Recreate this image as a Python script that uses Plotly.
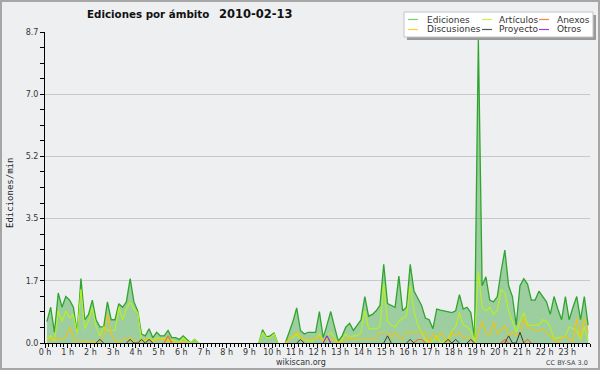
import plotly.graph_objects as go

# ---- data: one value per 10-minute slot (6 per hour), edits per minute ----
hour_labels = [f"{h} h" for h in range(24)]

ediciones = [
    0.6, 1.0, 0.3, 1.4, 1.0, 1.3,      # 0h
    1.2, 1.0, 0.3, 1.8, 0.65, 0.8,     # 1h
    1.2, 0.65, 0.45, 0.45, 1.15, 0.65, # 2h
    0.65, 1.1, 1.0, 1.15, 1.8, 1.15,   # 3h
    0.9, 0.25, 0.2, 0.4, 0.15, 0.3,    # 4h
    0.2, 0.2, 0.35, 0.15, 0.15, 0.1,   # 5h
    0.2, 0.1, 0.0, 0.1, 0.0, 0.0,      # 6h
    0, 0, 0, 0, 0, 0,                  # 7h
    0, 0, 0, 0, 0, 0,                  # 8h
    0, 0, 0.0, 0.37, 0.17, 0.2,        # 9h
    0.28, 0.0, 0.0, 0.0, 0.3, 0.6,     # 10h
    0.98, 0.35, 0.25, 0.3, 0.3, 0.3,   # 11h
    0.88, 0.15, 0.5, 0.88, 0.45, 0.05, # 12h
    0.2, 0.45, 0.55, 0.35, 0.5, 0.65,  # 13h
    1.3, 0.75, 0.8, 0.9, 1.05, 2.2,    # 14h
    1.1, 1.05, 1.0, 1.87, 0.9, 1.0,    # 15h
    2.2, 1.45, 1.25, 1.05, 0.7, 0.65,  # 16h
    0.4, 0.95, 0.92, 0.9, 0.88, 0.85,  # 17h
    0.9, 1.35, 0.95, 1.0, 0.85, 0.15,  # 18h
    8.5, 1.6, 1.85, 1.2, 1.15, 1.3,    # 19h
    2.0, 2.6, 1.6, 1.3, 0.5, 1.6,      # 20h
    1.8, 1.65, 1.2, 1.2, 1.45, 1.3,    # 21h
    1.15, 0.8, 1.3, 0.95, 0.65, 1.3,   # 22h
    0.65, 1.0, 1.3, 0.65, 1.3, 0.5,    # 23h
]

articulos = [
    0.1, 0.2, 0.05, 0.9, 0.6, 0.9,
    0.7, 0.8, 0.25, 1.5, 0.4, 0.6,
    1.0, 0.45, 0.2, 0.45, 0.35, 0.35,
    0.35, 1.0, 0.65, 0.95, 1.15, 0.95,
    0.85, 0.1, 0.05, 0.15, 0.05, 0.15,
    0.1, 0.15, 0.05, 0.1, 0.05, 0.0,
    0.15, 0.05, 0.0, 0.1, 0.0, 0.0,
    0, 0, 0, 0, 0, 0,
    0, 0, 0, 0, 0, 0,
    0, 0, 0, 0.3, 0.15, 0.15,
    0.25, 0, 0, 0, 0.1, 0.15,
    0.25, 0.1, 0.1, 0.05, 0.05, 0.1,
    0.25, 0.05, 0.2, 0.3, 0.15, 0.0,
    0.1, 0.25, 0.15, 0.2, 0.2, 0.3,
    0.9, 0.4, 0.4, 0.4, 0.45, 1.65,
    0.6, 0.5, 0.45, 0.6, 0.7, 0.75,
    1.6, 0.9, 0.5, 0.3, 0.1, 0.0,
    0.05, 0.2, 0.0, 0.05, 0.1, 0.35,
    0.45, 0.85, 0.5, 0.45, 0.35, 0.05,
    2.0, 1.0, 0.9, 1.0, 0.8, 0.9,
    1.5, 1.4, 0.9, 0.6, 0.3, 0.6,
    0.85, 0.5, 0.5, 0.5, 0.5, 0.65,
    0.6, 0.45, 0.1, 0.15, 0.15, 0.2,
    0.45, 0.4, 0.35, 0.1, 0.45, 0.05,
]

discusiones = [
    0.05, 0.1, 0.15, 0.1, 0.1, 0.15,
    0.45, 0.15, 0.05, 0.05, 0.05, 0.0,
    0.05, 0.0, 0.05, 0.2, 0.8, 0.25,
    0.05, 0.0, 0.1, 0.1, 0.15, 0.05,
    0.0, 0.05, 0.1, 0.1, 0.05, 0.1,
    0.1, 0.1, 0.05, 0.05, 0.0, 0.0,
    0.05, 0.0, 0, 0, 0, 0,
    0, 0, 0, 0, 0, 0,
    0, 0, 0, 0, 0, 0,
    0, 0, 0, 0, 0, 0,
    0, 0, 0, 0, 0.1, 0.2,
    0.3, 0.2, 0.1, 0.1, 0.1, 0.1,
    0.2, 0.05, 0.1, 0.15, 0.05, 0.0,
    0.05, 0.1, 0.15, 0.1, 0.1, 0.1,
    0.1, 0.1, 0.1, 0.15, 0.3, 0.3,
    0.3, 0.15, 0.3, 0.15, 0.1, 0.3,
    0.3, 0.3, 0.3, 0.3, 0.3, 0.0,
    0.25, 0.1, 0.3, 0.15, 0.0, 0.3,
    0.2, 0.3, 0.15, 0.2, 0.1, 0.0,
    0.3, 0.6, 0.3, 0.2, 0.6, 0.25,
    0.35, 0.5, 0.2, 0.3, 0.2, 0.25,
    0.7, 0.45, 0.4, 0.35, 0.35, 0.4,
    0.3, 0.2, 0.1, 0.0, 0.15, 0.2,
    0.1, 0.05, 0.7, 0.15, 0.7, 0.3,
]

anexos = [
    0, 0, 0, 0, 0, 0,
    0, 0, 0, 0, 0, 0,
    0, 0, 0, 0, 0, 0,
    0, 0, 0, 0, 0, 0,
    0, 0, 0, 0, 0, 0,
    0, 0, 0.2, 0, 0, 0,
    0, 0, 0, 0, 0, 0,
    0, 0, 0, 0, 0, 0,
    0, 0, 0, 0, 0, 0,
    0, 0, 0, 0, 0, 0,
    0, 0, 0, 0, 0, 0,
    0, 0, 0, 0, 0, 0,
    0, 0, 0, 0, 0, 0,
    0, 0, 0, 0, 0, 0,
    0, 0, 0, 0, 0, 0,
    0, 0, 0, 0, 0, 0,
    0, 0, 0.1, 0.1, 0, 0,
    0, 0, 0, 0, 0, 0,
    0, 0, 0, 0, 0, 0,
    0, 0, 0, 0, 0, 0,
    0, 0.1, 0, 0, 0, 0,
    0, 0.1, 0, 0, 0, 0,
    0, 0, 0, 0, 0, 0,
    0, 0, 0, 0, 0, 0,
]

proyecto = [
    0, 0, 0, 0, 0, 0,
    0, 0, 0, 0, 0, 0,
    0, 0, 0.1, 0, 0, 0,
    0, 0, 0, 0, 0.1, 0,
    0, 0.1, 0, 0.1, 0, 0,
    0, 0, 0, 0, 0, 0,
    0, 0, 0, 0, 0, 0,
    0, 0, 0, 0, 0, 0,
    0, 0, 0, 0, 0, 0,
    0, 0, 0, 0, 0, 0,
    0, 0, 0, 0, 0, 0,
    0, 0.1, 0, 0, 0, 0,
    0, 0, 0, 0, 0, 0,
    0, 0, 0, 0, 0, 0,
    0, 0, 0, 0, 0, 0,
    0.2, 0, 0, 0, 0, 0,
    0.1, 0, 0, 0, 0, 0,
    0, 0, 0, 0, 0.1, 0,
    0.1, 0, 0, 0, 0.1, 0,
    0, 0, 0, 0, 0, 0,
    0, 0, 0.2, 0, 0, 0.3,
    0, 0, 0, 0, 0, 0,
    0, 0, 0, 0, 0, 0,
    0, 0, 0, 0, 0, 0,
]

otros = [
    0, 0, 0, 0, 0, 0,
    0, 0, 0, 0, 0, 0,
    0, 0, 0, 0, 0, 0,
    0, 0, 0, 0, 0, 0,
    0, 0, 0, 0, 0, 0,
    0, 0, 0, 0, 0, 0,
    0, 0, 0, 0, 0, 0,
    0, 0, 0, 0, 0, 0,
    0, 0, 0, 0, 0, 0,
    0, 0, 0, 0, 0, 0,
    0, 0, 0, 0, 0, 0,
    0, 0, 0, 0, 0, 0,
    0, 0, 0.2, 0, 0, 0,
    0, 0, 0, 0, 0, 0,
    0, 0, 0, 0, 0, 0,
    0, 0, 0, 0, 0, 0,
    0, 0, 0, 0, 0, 0,
    0, 0, 0, 0, 0, 0,
    0, 0, 0, 0, 0, 0,
    0, 0, 0, 0, 0, 0,
    0, 0, 0, 0, 0, 0,
    0, 0, 0, 0, 0, 0,
    0, 0, 0, 0, 0, 0,
    0, 0, 0, 0, 0, 0,
]

y_tick_values = [0, 1.74, 3.48, 5.22, 6.96, 8.7]
y_tick_labels = ["0.0", "1.7", "3.5", "5.2", "7.0", "8.7"]

# time of each slot (centre of the 10-minute bucket), in hours
t = [(i + 0.5) / 6 for i in range(len(ediciones))]


def hide_idle(vals):
    """Keep zeros only where they touch a non-zero value, so idle stretches
    are not drawn along the baseline."""
    out = []
    n = len(vals)
    for i, v in enumerate(vals):
        if v == 0:
            left = vals[i - 1] if i > 0 else 0
            right = vals[i + 1] if i < n - 1 else 0
            out.append(0 if (left or right) else None)
        else:
            out.append(v)
    return out


# ---- geometry helpers (pixel -> paper) ----
W, H = 600, 370
ML, MR, MT, MB = 45, 10, 32, 27
PW, PH = W - ML - MR, H - MT - MB


def px(x):
    return (x - ML) / PW


def py(y):
    return (H - MB - y) / PH


BG = "#EEEFF1"
FONT = "DejaVu Sans"

series = [
    ("Artículos", articulos, "#B8F21C", 1.1),
    ("Discusiones", discusiones, "#F5C20F", 1.1),
    ("Anexos", anexos, "#FF6A2A", 1.1),
    ("Proyecto", proyecto, "#3A3A3A", 1.0),
    ("Otros", otros, "#8A2BE2", 1.1),
]

fig = go.Figure()
fig.add_trace(go.Scatter(
    x=t, y=hide_idle(ediciones), name="Ediciones", mode="lines",
    line=dict(color="#2FA52F", width=1.3),
    fill="tozeroy", fillcolor="rgba(45,160,45,0.42)",
    connectgaps=False, showlegend=False, hoverinfo="skip",
))
for name, vals, col, w in series:
    fig.add_trace(go.Scatter(
        x=t, y=hide_idle(vals), name=name, mode="lines",
        line=dict(color=col, width=w), connectgaps=False,
        showlegend=False, hoverinfo="skip",
    ))

shapes = []
annotations = []

# image border
shapes.append(dict(type="rect", xref="paper", yref="paper",
                   x0=px(1), x1=px(599), y0=py(1), y1=py(369),
                   line=dict(color="#A6A6A6", width=2), fillcolor="rgba(0,0,0,0)",
                   layer="above"))

# legend box with shadow
shapes.append(dict(type="rect", xref="paper", yref="paper",
                   x0=px(407), x1=px(596), y0=py(15), y1=py(40),
                   line=dict(width=0), fillcolor="#9A9A9A", layer="above"))
shapes.append(dict(type="rect", xref="paper", yref="paper",
                   x0=px(404), x1=px(593), y0=py(12), y1=py(37),
                   line=dict(color="#C4C4C4", width=1), fillcolor="white", layer="above"))

legend_items = [
    ("Ediciones", "#7ACF7A", 408, 425, 19.5),
    ("Artículos", "#C8F53C", 482, 497, 19.5),
    ("Anexos", "#FF8040", 539, 555, 19.5),
    ("Discusiones", "#FFD030", 408, 425, 29.5),
    ("Proyecto", "#555555", 482, 497, 29.5),
    ("Otros", "#9B3DF0", 539, 555, 29.5),
]
for label, col, sx, tx, yy in legend_items:
    shapes.append(dict(type="line", xref="paper", yref="paper",
                       x0=px(sx), x1=px(sx + 10), y0=py(yy), y1=py(yy),
                       line=dict(color=col, width=1.2), layer="above"))
    annotations.append(dict(text=label, xref="paper", yref="paper",
                            x=px(tx), y=py(yy), xanchor="left", yanchor="middle",
                            showarrow=False, font=dict(family=FONT, size=9, color="#333333")))

# title
annotations.append(dict(text="Ediciones por ámbito", xref="paper", yref="paper",
                        x=px(85), y=py(14), xanchor="left", yanchor="middle", showarrow=False,
                        font=dict(family=FONT, size=10.3, color="#111111", weight="bold")))
annotations.append(dict(text="2010-02-13", xref="paper", yref="paper",
                        x=px(217), y=py(14), xanchor="left", yanchor="middle", showarrow=False,
                        font=dict(family=FONT, size=11.5, color="#111111", weight="bold")))

# y-axis title
annotations.append(dict(text="Ediciones/min", xref="paper", yref="paper",
                        x=px(10), y=py(193), xanchor="center", yanchor="middle",
                        textangle=-90, showarrow=False,
                        font=dict(family="DejaVu Sans Mono", size=9, color="#222222")))

# footer
annotations.append(dict(text="wikiscan.org", xref="paper", yref="paper",
                        x=px(301), y=py(362.5), xanchor="center", yanchor="middle", showarrow=False,
                        font=dict(family=FONT, size=8, color="#333333")))
annotations.append(dict(text="CC BY-SA 3.0", xref="paper", yref="paper",
                        x=px(590), y=py(363), xanchor="right", yanchor="middle", showarrow=False,
                        font=dict(family=FONT, size=6.5, color="#444444")))

fig.update_layout(
    width=W, height=H,
    margin=dict(l=ML, r=MR, t=MT, b=MB, pad=0),
    paper_bgcolor=BG, plot_bgcolor=BG,
    showlegend=False,
    shapes=shapes, annotations=annotations,
    xaxis=dict(
        range=[0, 24], showgrid=False, zeroline=False,
        showline=True, linecolor="black", linewidth=1, layer="above traces",
        tickmode="array", tickvals=list(range(24)), ticktext=hour_labels,
        ticks="outside", ticklen=4, tickcolor="black", tickwidth=1,
        ticklabelstandoff=-3,
        tickfont=dict(family=FONT, size=8, color="#333333"),
        minor=dict(tickmode="array", tickvals=[k / 6 for k in range(145)],
                   ticks="outside", ticklen=3, tickcolor="black", showgrid=False),
        fixedrange=True,
    ),
    yaxis=dict(
        range=[0, 8.7], zeroline=False,
        showgrid=True, gridcolor="#C8C8C8", gridwidth=1,
        showline=True, linecolor="black", linewidth=1,
        tickmode="array", tickvals=y_tick_values, ticktext=y_tick_labels,
        ticks="outside", ticklen=4, tickcolor="black",
        tickfont=dict(family=FONT, size=8, color="#333333"),
        minor=dict(tickmode="array", tickvals=[k * 0.435 for k in range(21)],
                   ticks="outside", ticklen=4, tickcolor="black", showgrid=False),
        fixedrange=True,
    ),
)

fig.write_html(
    "out.html",
    config={"displayModeBar": False, "staticPlot": True},
    post_script="document.body.style.margin='0';document.body.style.overflow='hidden';",
)
